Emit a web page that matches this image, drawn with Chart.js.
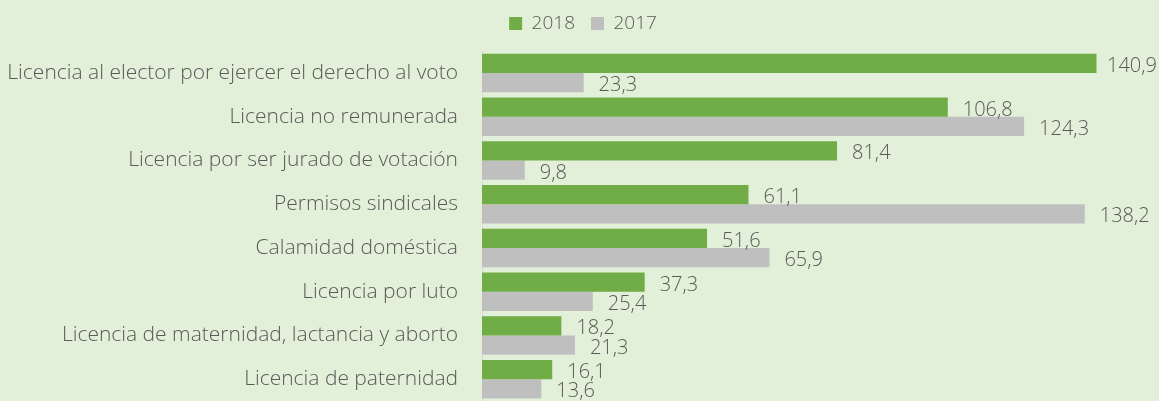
<!DOCTYPE html>
<html>
<head>
<meta charset="utf-8">
<script src="https://cdn.jsdelivr.net/npm/chart.js@4"></script>
<style>
html,body{margin:0;padding:0;background:#e2efd9;}
#wrap{width:1159px;height:401px;position:relative;}
</style>
</head>
<body>
<div id="wrap"><canvas id="c" width="1159" height="401"></canvas></div>
<script>
const categories = [
  "Licencia al elector por ejercer el derecho al voto",
  "Licencia no remunerada",
  "Licencia por ser jurado de votación",
  "Permisos sindicales",
  "Calamidad doméstica",
  "Licencia por luto",
  "Licencia de maternidad, lactancia y aborto",
  "Licencia de paternidad"
];
const values2018 = [140.9, 106.8, 81.4, 61.1, 51.6, 37.3, 18.2, 16.1];
const values2017 = [23.3, 124.3, 9.8, 138.2, 65.9, 25.4, 21.3, 13.6];
const seriesNames = ["2018", "2017"];

const FONT = "'Open Sans', sans-serif";

const bgPlugin = {
  id: 'bg',
  beforeDraw(chart) {
    const ctx = chart.ctx;
    ctx.save();
    ctx.fillStyle = '#e2efd9';
    ctx.fillRect(0, 0, chart.width, chart.height);
    ctx.restore();
  }
};

const legendHeightPlugin = {
  id: 'legendHeight',
  afterInit(chart) {
    const lg = chart.legend;
    if (!lg) return;
    const orig = lg.fit;
    lg.fit = function () {
      orig.call(this);
      this.height = 51;
    };
  },
  afterLayout(chart) {
    const lg = chart.legend;
    if (!lg) return;
    lg.left += 4; lg.right += 4;
    lg.top -= 2; lg.bottom -= 2;
  }
};

const labelPlugin = {
  id: 'vals',
  afterDatasetsDraw(chart) {
    const ctx = chart.ctx;
    ctx.save();
    ctx.font = "300 20px " + FONT;
    ctx.fillStyle = '#595959';
    ctx.textBaseline = 'middle';
    ctx.textAlign = 'left';
    chart.data.datasets.forEach((ds, di) => {
      const meta = chart.getDatasetMeta(di);
      meta.data.forEach((el, i) => {
        const txt = ds.data[i].toFixed(1).replace('.', ',');
        const w = ctx.measureText(txt).width;
        const x = Math.min(el.x + 15, chart.width - w - 2);
        ctx.fillText(txt, x, el.y + 3);
      });
    });
    ctx.restore();
  }
};

new Chart(document.getElementById('c'), {
  type: 'bar',
  data: {
    labels: categories,
    datasets: [
      { label: seriesNames[0], data: values2018, backgroundColor: '#70ad47', borderWidth: 0,
        categoryPercentage: 0.88, barPercentage: 1.0 },
      { label: seriesNames[1], data: values2017, backgroundColor: '#bfbfbf', borderWidth: 0,
        categoryPercentage: 0.88, barPercentage: 1.0 }
    ]
  },
  options: {
    indexAxis: 'y',
    responsive: false,
    animation: false,
    layout: { padding: { left: 0, right: 1, top: 0, bottom: 0 } },
    plugins: {
      legend: {
        position: 'top',
        labels: {
          boxWidth: 13, boxHeight: 13, padding: 16,
          color: '#595959',
          font: { family: FONT, size: 19, weight: '300' }
        }
      },
      tooltip: { enabled: false }
    },
    scales: {
      x: {
        display: false,
        min: 0, max: 155
      },
      y: {
        grid: { display: false, drawTicks: false },
        border: { display: true, color: '#d9d9d9', width: 1 },
        afterFit(s) { s.width = 482; s.paddingTop = 0; s.paddingBottom = 0; },
        ticks: {
          padding: 24,
          color: '#595959',
          font: { family: FONT, size: 21, weight: '300' }
        }
      }
    }
  },
  plugins: [bgPlugin, legendHeightPlugin, labelPlugin]
});
</script>
</body>
</html>
